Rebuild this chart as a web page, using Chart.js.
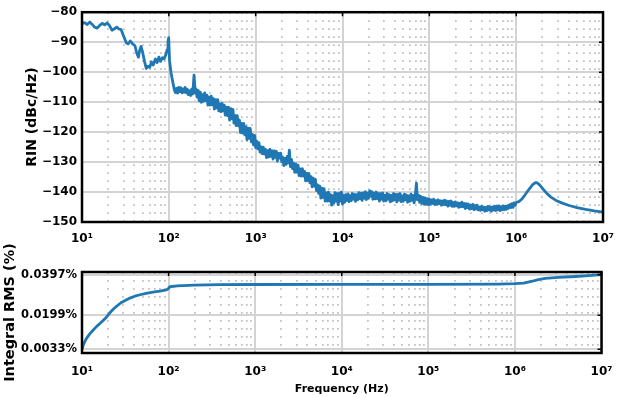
<!DOCTYPE html>
<html>
<head>
<meta charset="utf-8">
<script src="https://cdn.jsdelivr.net/npm/chart.js@4/dist/chart.umd.min.js"></script>
<style>
  html, body { margin: 0; padding: 0; background: #fff; }
  #wrap { position: relative; width: 624px; height: 397px; }
  #rin_chart { position: absolute; left: 0; top: 0; }
  #rms_chart { position: absolute; left: 0; top: 230px; }
</style>
</head>
<body>
<div id="wrap">
  <canvas id="rin_chart" width="624" height="250"></canvas>
  <canvas id="rms_chart" width="624" height="167"></canvas>
</div>
<script>
// decades shown on the frequency axis and their labels
const decadeHz = [1e1, 1e2, 1e3, 1e4, 1e5, 1e6, 1e7];
const decadeLabels = ['10¹', '10²', '10³', '10⁴', '10⁵', '10⁶', '10⁷'];
const minorSteps = [2, 3, 4, 5, 6, 7, 8, 9];

// RIN spectrum: log10(frequency in Hz) and level in dBc/Hz
const rinLogF = [
  // 10 - 110 Hz
  1.000, 1.030, 1.060, 1.090, 1.115, 1.145, 1.175, 1.200, 1.235, 1.260, 1.290, 1.315,
  1.345, 1.370, 1.400, 1.425, 1.450, 1.480, 1.510, 1.530, 1.555, 1.580, 1.610, 1.630,
  1.650, 1.665, 1.680, 1.700, 1.720, 1.740, 1.760, 1.780, 1.800, 1.820, 1.845, 1.865,
  1.885, 1.905, 1.925, 1.945, 1.965, 1.980, 1.990, 1.998, 2.008, 2.025, 2.050,
  // 115 - 205 Hz
  2.063, 2.075, 2.088, 2.100, 2.113, 2.125, 2.138, 2.150, 2.163, 2.175, 2.188,
  2.200, 2.213, 2.225, 2.238, 2.250, 2.263, 2.275, 2.290, 2.305, 2.313,
  // 210 - 490 Hz
  2.325, 2.338, 2.350, 2.363, 2.375, 2.388, 2.400, 2.413, 2.425, 2.438,
  2.450, 2.463, 2.475, 2.488, 2.500, 2.513, 2.525, 2.538, 2.550, 2.563,
  2.575, 2.588, 2.600, 2.613, 2.625, 2.638, 2.650, 2.663, 2.675, 2.688,
  // 0.5 - 1 kHz
  2.700, 2.713, 2.725, 2.738, 2.750, 2.763, 2.775, 2.788, 2.800, 2.813, 2.825, 2.838,
  2.850, 2.863, 2.875, 2.888, 2.900, 2.913, 2.925, 2.938, 2.950, 2.963, 2.975, 2.988,
  // 1 - 2.7 kHz
  3.000, 3.013, 3.025, 3.038, 3.050, 3.063, 3.075, 3.088, 3.100, 3.113, 3.125, 3.138,
  3.150, 3.163, 3.175, 3.188, 3.200, 3.213, 3.225, 3.238, 3.250, 3.263, 3.275, 3.288,
  3.300, 3.313, 3.325, 3.338, 3.350, 3.363, 3.375, 3.388, 3.400, 3.413, 3.425, 3.438,
  // 2.8 - 5.5 kHz
  3.450, 3.463, 3.475, 3.488, 3.500, 3.513, 3.525, 3.538, 3.550, 3.563, 3.575, 3.588,
  3.600, 3.613, 3.625, 3.638, 3.650, 3.663, 3.675, 3.688, 3.700, 3.713, 3.725, 3.738,
  // 5.6 - 10 kHz
  3.750, 3.763, 3.775, 3.788, 3.800, 3.813, 3.825, 3.838, 3.850, 3.863, 3.875,
  3.888, 3.900, 3.913, 3.925, 3.938, 3.950, 3.963, 3.975, 3.988, 4.000, 4.013,
  // 10 - 75 kHz
  4.025, 4.038, 4.050, 4.063, 4.075, 4.088, 4.100, 4.113, 4.125, 4.138, 4.150, 4.163,
  4.175, 4.188, 4.200, 4.213, 4.225, 4.238, 4.250, 4.263, 4.275, 4.288, 4.300, 4.313,
  4.325, 4.338, 4.350, 4.363, 4.375, 4.388, 4.400, 4.413, 4.425, 4.438, 4.450, 4.463,
  4.475, 4.488, 4.500, 4.513, 4.525, 4.538, 4.550, 4.563, 4.575, 4.588, 4.600, 4.613,
  4.625, 4.638, 4.650, 4.663, 4.675, 4.688, 4.700, 4.713, 4.725, 4.738, 4.750, 4.763,
  4.775, 4.788, 4.800, 4.813, 4.825, 4.838, 4.851, 4.863, 4.875,
  // 77 - 100 kHz
  4.888, 4.900, 4.913, 4.925, 4.938, 4.950, 4.963, 4.975, 4.988, 5.000,
  // 100 - 320 kHz
  5.013, 5.025, 5.038, 5.050, 5.063, 5.075, 5.088, 5.100, 5.113, 5.125,
  5.138, 5.150, 5.163, 5.175, 5.188, 5.200, 5.213, 5.225, 5.238, 5.250,
  5.263, 5.275, 5.288, 5.300, 5.313, 5.325, 5.338, 5.350, 5.363, 5.375,
  5.388, 5.400, 5.413, 5.425, 5.438, 5.450, 5.463, 5.475, 5.488, 5.500,
  // 0.33 - 1 MHz
  5.513, 5.525, 5.538, 5.550, 5.563, 5.575, 5.588, 5.600, 5.613, 5.625,
  5.638, 5.650, 5.663, 5.675, 5.688, 5.700, 5.713, 5.725, 5.738, 5.750,
  5.763, 5.775, 5.788, 5.800, 5.813, 5.825, 5.838, 5.850, 5.863, 5.875,
  5.888, 5.900, 5.913, 5.925, 5.938, 5.950, 5.963, 5.975, 5.988, 6.000,
  // 1 - 10 MHz
  6.030, 6.060, 6.100, 6.150, 6.190, 6.220, 6.240, 6.270, 6.310,
  6.350, 6.400, 6.460, 6.530, 6.610, 6.700, 6.800, 6.900, 7.000
];
const rinDb = [
  // 10 - 110 Hz
  -83.8, -83.5, -84.1, -83.3, -84.0, -85.0, -85.3, -84.5, -83.7, -84.2, -83.6, -84.4,
  -86.0, -85.6, -85.0, -85.6, -85.8, -88.0, -90.2, -90.6, -89.6, -90.5, -91.2, -93.6,
  -95.0, -92.6, -91.4, -93.6, -96.4, -98.8, -98.0, -98.4, -96.6, -97.6, -95.6, -96.8,
  -95.0, -96.4, -95.2, -95.6, -94.2, -92.6, -90.0, -88.5, -96.0, -100.2, -104.0,
  // 115 - 205 Hz
  -105.8, -106.8, -105.4, -107.0, -105.1, -106.5, -105.2, -106.9, -105.6, -106.7, -105.1,
  -106.9, -105.7, -107.5, -106.2, -107.8, -105.7, -107.3, -101.0, -107.0, -105.6,
  // 210 - 490 Hz
  -108.3, -106.1, -109.6, -106.7, -110.1, -107.5, -109.7, -106.9, -109.5, -107.7,
  -111.0, -108.3, -111.0, -108.0, -110.9, -108.8, -112.3, -109.2, -111.9, -109.2,
  -112.9, -110.6, -113.2, -110.4, -112.9, -111.0, -114.3, -111.7, -114.5, -111.7,
  // 0.5 - 1 kHz
  -116.0, -112.2, -115.5, -112.4, -117.0, -114.4, -117.8, -114.5, -117.9, -116.0, -120.2, -117.1,
  -120.3, -117.1, -120.9, -118.2, -122.5, -118.7, -122.1, -118.8, -123.3, -120.8, -124.3, -121.1,
  // 1 - 2.7 kHz
  -125.2, -123.0, -125.6, -123.5, -126.7, -124.9, -127.2, -125.0, -127.3, -125.8, -128.5, -126.2,
  -128.3, -125.8, -128.1, -126.2, -129.0, -126.3, -128.4, -126.4, -129.7, -127.1, -128.7, -127.0,
  -129.9, -128.4, -131.2, -128.8, -130.8, -128.1, -130.3, -126.0, -131.5, -129.1, -132.2, -130.4,
  // 2.8 - 5.5 kHz
  -133.4, -130.6, -133.3, -131.0, -134.5, -132.3, -134.7, -132.2, -134.7, -133.1, -136.3, -133.8,
  -136.2, -133.8, -136.9, -134.9, -138.3, -135.4, -138.0, -135.8, -139.5, -137.6, -140.4, -138.0,
  // 5.6 - 10 kHz
  -142.0, -138.7, -141.8, -138.9, -143.0, -140.3, -143.0, -140.0, -143.0, -140.9, -144.4,
  -141.2, -143.7, -140.2, -143.0, -140.5, -144.2, -140.4, -143.0, -140.0, -144.0, -141.1,
  // 10 - 75 kHz
  -143.4, -140.9, -142.8, -140.6, -143.2, -141.2, -142.9, -140.5, -142.4, -140.8, -143.1, -140.9,
  -142.6, -140.2, -142.2, -140.4, -142.8, -140.3, -142.1, -139.9, -142.5, -140.4, -142.1, -139.6,
  -141.4, -139.9, -142.4, -140.4, -142.3, -140.0, -142.2, -140.5, -143.0, -140.5, -142.4, -140.3,
  -143.0, -141.1, -142.9, -140.5, -142.4, -140.9, -143.3, -141.1, -142.9, -140.5, -142.6, -140.8,
  -143.3, -140.8, -142.7, -140.5, -143.2, -141.3, -143.1, -140.7, -142.6, -141.0, -143.4, -141.3,
  -143.1, -140.7, -142.8, -141.1, -143.6, -141.1, -137.0, -142.6, -141.0,
  // 77 - 100 kHz
  -143.4, -141.4, -143.8, -141.8, -144.0, -142.0, -144.1, -142.2, -144.2, -142.4,
  // 100 - 320 kHz
  -144.1, -142.6, -143.8, -142.4, -144.2, -142.9, -144.1, -142.6, -143.9, -142.9,
  -144.4, -143.0, -144.2, -142.7, -144.2, -143.0, -144.7, -143.1, -144.4, -143.0,
  -144.8, -143.5, -144.8, -143.3, -144.6, -143.6, -145.1, -143.7, -144.9, -143.4,
  -144.9, -143.8, -145.5, -143.9, -145.2, -144.0, -145.7, -144.4, -145.5, -144.1,
  // 0.33 - 1 MHz
  -145.9, -144.5, -145.7, -144.4, -146.0, -145.0, -146.1, -144.8, -145.9, -145.0,
  -146.4, -145.1, -146.2, -144.8, -146.0, -145.0, -146.4, -145.0, -146.0, -144.7,
  -146.2, -144.8, -145.9, -144.6, -146.2, -144.9, -145.9, -144.7, -145.9, -144.7,
  -145.8, -144.6, -145.4, -144.2, -145.2, -143.9, -145.1, -143.6, -144.4, -143.5,
  // 1 - 10 MHz
  -143.2, -142.5, -141.0, -139.0, -137.5, -136.9, -136.9, -137.6, -139.0,
  -140.4, -141.7, -142.8, -143.7, -144.5, -145.2, -145.8, -146.3, -146.7
];

// integrated RMS noise: log10(frequency in Hz) and value in %
const rmsLogF = [
  1.000, 1.020, 1.050, 1.090, 1.130, 1.170, 1.210, 1.250, 1.285, 1.320, 1.360, 1.400,
  1.450, 1.515, 1.560, 1.610, 1.670, 1.740, 1.820, 1.900, 1.975, 1.995, 2.015, 2.100,
  2.300, 2.600, 3.000, 4.000, 5.000, 5.800, 6.000, 6.100, 6.200, 6.270, 6.350, 6.500,
  6.700, 6.850, 7.000
];
const rmsPct = [
  0.0033, 0.0060, 0.0085, 0.0108, 0.0127, 0.0145, 0.0160, 0.0176, 0.0191, 0.0210, 0.0228, 0.0243,
  0.0260, 0.0275, 0.0284, 0.0292, 0.0299, 0.0306, 0.0312, 0.0317, 0.0323, 0.0328, 0.0338, 0.0342,
  0.0346, 0.0348, 0.0349, 0.0350, 0.0350, 0.0351, 0.0353, 0.0356, 0.0365, 0.0373, 0.0379, 0.0384,
  0.0388, 0.0392, 0.0397
];
const rmsTicks = [0.0033, 0.0199, 0.0397];

const FONT = 'DejaVu Sans';
const LINE_COLOR = '#1f77b4';
const MAJOR_GRID = '#d3d3d3';
const MINOR_GRID = '#c2c2c2';

Chart.defaults.font.family = FONT;
Chart.defaults.color = '#000';

// every grid position on the frequency axis: 1..9 x each decade, plus 10^7
var xGridHz = [];
decadeHz.slice(0, -1).forEach(function(d){
  xGridHz.push(d);
  minorSteps.forEach(function(m){ xGridHz.push(d * m); });
});
xGridHz.push(decadeHz[decadeHz.length - 1]);

function isDecade(v){
  return decadeHz.indexOf(v) !== -1;
}

function decadeLabel(v){
  const i = decadeHz.indexOf(v);
  return i === -1 ? '' : decadeLabels[i];
}

function toPoints(logF, vals){
  return logF.map(function(e, i){ return {x: Math.pow(10, e), y: vals[i]}; });
}

// black frame round the plot area plus inward ticks on the top and right edges
const framePlugin = {
  id: 'frame',
  afterDraw(chart){
    const ctx = chart.ctx;
    const a = chart.chartArea;
    const xs = chart.scales.x, ys = chart.scales.y;
    ctx.save();
    ctx.strokeStyle = '#000';
    ctx.lineWidth = 1.5;
    ctx.beginPath();
    decadeHz.forEach(function(v){
      const px = xs.getPixelForValue(v);
      ctx.moveTo(px, a.top); ctx.lineTo(px, a.top + 4);
    });
    ys.ticks.forEach(function(t){
      const py = ys.getPixelForValue(t.value);
      ctx.moveTo(a.right - 4, py); ctx.lineTo(a.right, py);
    });
    ctx.stroke();
    ctx.lineWidth = 2.5;
    ctx.strokeRect(a.left, a.top, a.right - a.left, a.bottom - a.top);
    ctx.restore();
  }
};

function freqAxis(height, labelPad, title){
  return {
    type: 'logarithmic',
    min: decadeHz[0],
    max: decadeHz[decadeHz.length - 1],
    afterBuildTicks: function(s){ s.ticks = xGridHz.map(function(v){ return {value: v}; }); },
    afterFit: function(s){ s.height = height; },
    ticks: {
      autoSkip: false, maxRotation: 0, padding: labelPad,
      font: {size: 12, weight: 'bold'},
      callback: function(v){ return decadeLabel(v); }
    },
    grid: {
      drawTicks: false,
      color: function(c){ return c.tick && isDecade(c.tick.value) ? MAJOR_GRID : MINOR_GRID; },
      lineWidth: function(c){ return c.tick && isDecade(c.tick.value) ? 2 : 1.8; }
    },
    border: {
      display: false,
      dash: function(c){ return c.tick && !isDecade(c.tick.value) ? [1.8, 6.2] : []; }
    },
    title: title
  };
}

function lineDataset(points){
  return {
    data: points,
    borderColor: LINE_COLOR,
    borderWidth: 2.8,
    borderJoinStyle: 'round',
    borderCapStyle: 'round',
    pointRadius: 0,
    tension: 0,
    fill: false
  };
}

function createRinChart(){
  return new Chart(document.getElementById('rin_chart'), {
    type: 'line',
    data: {datasets: [lineDataset(toPoints(rinLogF, rinDb))]},
    options: {
      responsive: false,
      animation: false,
      layout: {padding: {top: 12, right: 20, bottom: 0, left: 0}},
      plugins: {legend: {display: false}, tooltip: {enabled: false}},
      scales: {
        x: freqAxis(28, 10, {display: false}),
        y: {
          min: -150, max: -80,
          afterFit: function(s){ s.width = 82; },
          ticks: {
            stepSize: 10, padding: 5,
            font: {size: 12, weight: 'bold'},
            callback: function(v){ return v < 0 ? '\u2212' + Math.abs(v) : String(v); }
          },
          grid: {drawTicks: false, color: MAJOR_GRID, lineWidth: 2},
          border: {display: false},
          title: {
            display: true, text: 'RIN (dBc/Hz)',
            font: {size: 14, weight: 'bold', lineHeight: 1.2},
            padding: {top: 23.6, bottom: 0}
          }
        }
      }
    },
    plugins: [framePlugin]
  });
}

function createRmsChart(){
  return new Chart(document.getElementById('rms_chart'), {
    type: 'line',
    data: {datasets: [lineDataset(toPoints(rmsLogF, rmsPct))]},
    options: {
      responsive: false,
      animation: false,
      layout: {padding: {top: 42, right: 20, bottom: 0, left: 0}},
      plugins: {legend: {display: false}, tooltip: {enabled: false}},
      scales: {
        x: freqAxis(44, 11.5, {
          display: true, text: 'Frequency (Hz)',
          font: {size: 11, weight: 'bold', lineHeight: 1.2},
          padding: {top: 0, bottom: 1.5}
        }),
        y: {
          min: 0.0015, max: 0.041,
          afterFit: function(s){ s.width = 82; },
          afterBuildTicks: function(s){ s.ticks = rmsTicks.map(function(v){ return {value: v}; }); },
          ticks: {
            padding: 5,
            font: {size: 11.5, weight: 'bold'},
            callback: function(v){ return v.toFixed(4) + '%'; }
          },
          grid: {drawTicks: false, color: MAJOR_GRID, lineWidth: 2},
          border: {display: false},
          title: {
            display: true, text: 'Integral RMS (%)',
            font: {size: 14.5, weight: 'bold', lineHeight: 1.2},
            padding: {top: 1.8, bottom: 0}
          }
        }
      }
    },
    plugins: [framePlugin]
  });
}

var rin_graph = createRinChart();
var rms_graph = createRmsChart();
</script>
</body>
</html>
